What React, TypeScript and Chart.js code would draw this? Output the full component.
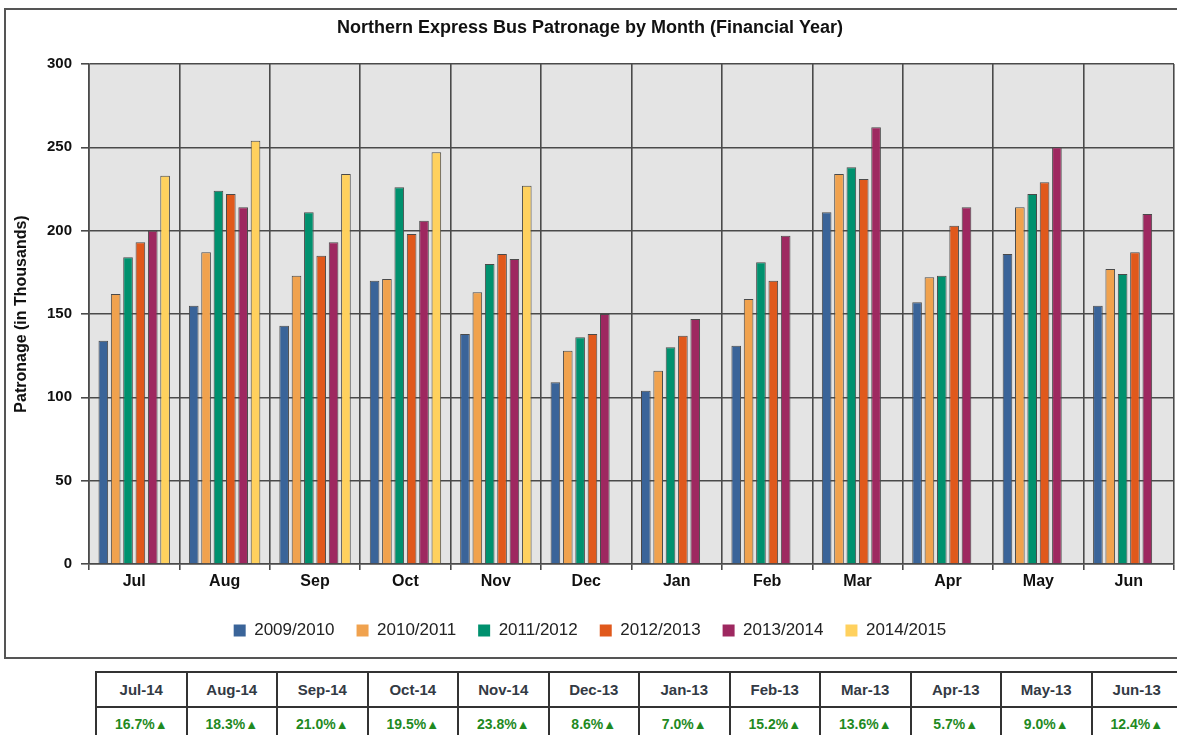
import React, { useEffect, useRef } from 'react';
import { Chart, registerables } from 'chart.js';

Chart.register(...registerables);

const FONT = '"Liberation Sans", Arial, Helvetica, sans-serif';

const months = ['Jul', 'Aug', 'Sep', 'Oct', 'Nov', 'Dec', 'Jan', 'Feb', 'Mar', 'Apr', 'May', 'Jun'];
const seriesLabels = ['2009/2010', '2010/2011', '2011/2012', '2012/2013', '2013/2014', '2014/2015'];

const fy2009 = [134, 155, 143, 170, 138, 109, 104, 131, 211, 157, 186, 155];
const fy2010 = [162, 187, 173, 171, 163, 128, 116, 159, 234, 172, 214, 177];
const fy2011 = [184, 224, 211, 226, 180, 136, 130, 181, 238, 173, 222, 174];
const fy2012 = [193, 222, 185, 198, 186, 138, 137, 170, 231, 203, 229, 187];
const fy2013 = [200, 214, 193, 206, 183, 150, 147, 197, 262, 214, 250, 210];
const fy2014 = [233, 254, 234, 247, 227, null, null, null, null, null, null, null];

const seriesColors = ['#3A6499', '#F0A24E', '#00916E', '#E0591C', '#9E2860', '#FFD15E'];

const yMin = 0;
const yMax = 300;
const yStep = 50;

const tableMonths = ['Jul-14', 'Aug-14', 'Sep-14', 'Oct-14', 'Nov-14', 'Dec-13', 'Jan-13', 'Feb-13', 'Mar-13', 'Apr-13', 'May-13', 'Jun-13'];
const tableChanges = ['16.7%', '18.3%', '21.0%', '19.5%', '23.8%', '8.6%', '7.0%', '15.2%', '13.6%', '5.7%', '9.0%', '12.4%'];

const GRID = '#4a4a4a';

const plotBg = {
  id: 'plotBg',
  beforeDraw(chart: any) {
    const { ctx, chartArea } = chart;
    if (!chartArea) return;
    ctx.save();
    ctx.fillStyle = '#E4E4E4';
    ctx.fillRect(chartArea.left, chartArea.top, chartArea.right - chartArea.left, chartArea.bottom - chartArea.top);
    ctx.restore();
  },
};

function BusChart() {
  const ref = useRef<HTMLCanvasElement | null>(null);
  useEffect(() => {
    if (!ref.current) return;
    const all = [fy2009, fy2010, fy2011, fy2012, fy2013, fy2014];
    const chart = new Chart(ref.current, {
      type: 'bar',
      data: {
        labels: months,
        datasets: all.map((d, i) => ({
          label: seriesLabels[i],
          data: d,
          backgroundColor: seriesColors[i],
          borderColor: '#4a4a4a',
          borderWidth: 1,
          barPercentage: 0.78,
          categoryPercentage: 0.82,
        })),
      },
      options: {
        animation: false,
        responsive: false,
        maintainAspectRatio: false,
        layout: { padding: { left: 6, right: 3, top: 0, bottom: 11 } },
        plugins: {
          title: {
            display: true,
            text: 'Northern Express Bus Patronage by Month (Financial Year)',
            color: '#111',
            font: { family: FONT, size: 18, weight: 'bold' },
            padding: { top: 17, bottom: 25.4 },
          },
          legend: {
            position: 'bottom',
            labels: {
              boxWidth: 12,
              boxHeight: 12,
              padding: 22,
              color: '#222',
              font: { family: FONT, size: 17 },
              generateLabels: (c: any) => {
                const items = (Chart.defaults.plugins.legend.labels as any).generateLabels(c);
                return items.map((it: any) => ({ ...it, strokeStyle: it.fillStyle, lineWidth: 0 }));
              },
            },
          },
          tooltip: { enabled: false },
        },
        scales: {
          x: {
            grid: { offset: true, color: GRID, lineWidth: 1.6, tickLength: 6, drawTicks: true },
            border: { color: GRID, width: 1.6 },
            ticks: {
              color: '#111',
              font: { family: FONT, size: 16, weight: 'bold' },
              padding: 2,
              maxRotation: 0,
              autoSkip: false,
            },
            afterFit: (s: any) => { s.height = 36; },
          },
          y: {
            min: yMin,
            max: yMax,
            ticks: {
              stepSize: yStep,
              color: '#111',
              font: { family: FONT, size: 15, weight: 'bold' },
              padding: 9,
            },
            grid: { color: GRID, lineWidth: 1.6, tickLength: 8 },
            border: { color: GRID, width: 1.6 },
            title: {
              display: true,
              text: 'Patronage (in Thousands)',
              color: '#111',
              font: { family: FONT, size: 16, weight: 'bold' },
              padding: { top: 6, bottom: 0 },
            },
            afterFit: (s: any) => { s.width = 83; },
          },
        },
      },
      plugins: [plotBg],
    } as any);
    return () => chart.destroy();
  }, []);
  return <canvas ref={ref} width={1177} height={660} style={{ position: 'absolute', left: 0, top: 0, width: 1177, height: 660 }} />;
}

export default function App() {
  const cellBase: React.CSSProperties = {
    border: '2px solid #333',
    textAlign: 'center',
    padding: 0,
    fontFamily: FONT,
    fontWeight: 'bold',
    fontSize: 15,
    width: 88.5,
  };
  return (
    <div style={{ position: 'fixed', left: 0, top: 0, width: 1177, height: 735, overflow: 'hidden', background: '#fff' }}>
      <div style={{ position: 'absolute', left: 4, top: 8, width: 1200, height: 651, border: '2px solid #555', boxSizing: 'border-box' }} />
      <BusChart />
      <table style={{ position: 'absolute', left: 95, top: 671, borderCollapse: 'collapse', tableLayout: 'fixed', width: 1086 }}>
        <tbody>
          <tr style={{ height: 35 }}>
            {tableMonths.map((m) => (
              <td key={m} style={{ ...cellBase, color: '#333a44' }}>{m}</td>
            ))}
          </tr>
          <tr style={{ height: 33 }}>
            {tableChanges.map((v, i) => (
              <td key={i} style={{ ...cellBase, color: '#1f8a1f', fontSize: 14 }}>{v}<span style={{ fontSize: 13 }}>▲</span></td>
            ))}
          </tr>
        </tbody>
      </table>
    </div>
  );
}
